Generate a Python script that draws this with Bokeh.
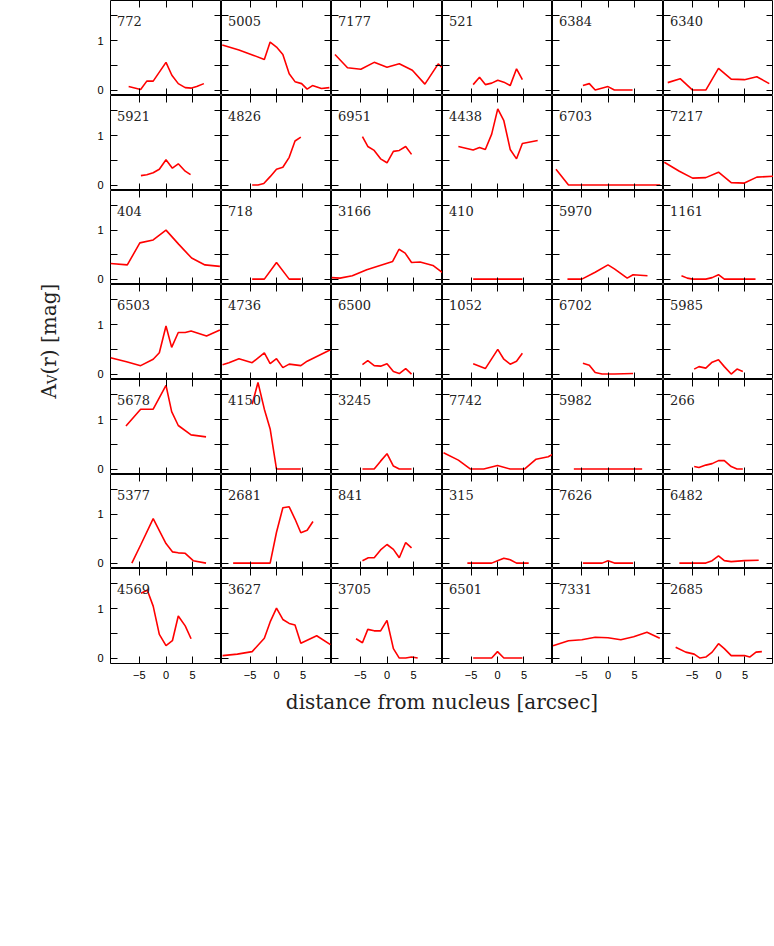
import math
from bokeh.plotting import figure
from bokeh.models import Range1d, FixedTicker, LinearAxis, Label
from bokeh.layouts import gridplot, row, column
from bokeh.embed import file_html
from bokeh.resources import INLINE

# ---------------- data ----------------
# row 1
x_772 = [-7.0, -4.75, -3.6, -2.4, 0.0, 1.1, 2.3, 3.6, 4.8, 5.75, 7.1]
y_772 = [0.07, 0.01, 0.18, 0.18, 0.56, 0.30, 0.13, 0.05, 0.04, 0.07, 0.13]
x_5005 = [-10.25, -7.1, -4.3, -2.3, -1.2, 0.0, 1.2, 2.4, 3.5, 4.75, 5.8, 6.8, 8.5, 10.0]
y_5005 = [0.91, 0.81, 0.70, 0.62, 0.97, 0.87, 0.72, 0.33, 0.17, 0.13, 0.02, 0.09, 0.03, 0.05]
x_7177 = [-9.75, -7.4, -4.9, -2.4, 0.0, 2.3, 4.75, 7.1, 9.6, 11.5]
y_7177 = [0.72, 0.45, 0.42, 0.56, 0.46, 0.53, 0.40, 0.12, 0.53, 0.34]
x_521 = [-4.6, -3.4, -2.3, -1.1, 0.05, 1.2, 2.4, 3.6, 4.7]
y_521 = [0.11, 0.26, 0.11, 0.14, 0.20, 0.16, 0.09, 0.43, 0.21]
x_6384 = [-4.7, -3.5, -2.4, 0.0, 1.2, 2.3, 3.5, 4.6]
y_6384 = [0.09, 0.13, 0.0, 0.07, 0.0, 0.0, 0.0, 0.0]
x_6340 = [-9.6, -7.25, -4.9, -2.4, 0.0, 2.4, 4.9, 7.25, 9.6]
y_6340 = [0.15, 0.23, 0.0, 0.0, 0.44, 0.22, 0.21, 0.27, 0.13]
# row 2
x_5921 = [-4.7, -3.6, -2.4, -1.25, 0.0, 1.2, 2.3, 3.6, 4.6]
y_5921 = [0.19, 0.21, 0.25, 0.32, 0.51, 0.34, 0.43, 0.28, 0.21]
x_4826 = [-4.6, -3.5, -2.4, -1.2, 0.0, 1.2, 2.4, 3.5, 4.6]
y_4826 = [0.0, 0.0, 0.03, 0.17, 0.32, 0.36, 0.56, 0.89, 0.97]
x_6951 = [-4.6, -3.6, -2.4, -1.2, 0.0, 1.2, 2.3, 3.5, 4.6]
y_6951 = [0.98, 0.78, 0.70, 0.53, 0.45, 0.68, 0.70, 0.78, 0.62]
x_4438 = [-7.4, -4.6, -3.4, -2.3, -1.1, 0.05, 1.2, 2.4, 3.6, 4.7, 7.6]
y_4438 = [0.78, 0.71, 0.76, 0.72, 1.03, 1.54, 1.30, 0.72, 0.53, 0.84, 0.90]
x_6703 = [-9.75, -7.4, -4.9, -2.4, 0.0, 2.4, 4.9, 7.4, 9.8]
y_6703 = [0.32, 0.0, 0.0, 0.0, 0.0, 0.0, 0.0, 0.0, 0.0]
x_7217 = [-10.25, -7.4, -4.9, -2.4, 0.0, 2.4, 4.9, 7.25, 10.4]
y_7217 = [0.46, 0.28, 0.14, 0.15, 0.26, 0.05, 0.04, 0.16, 0.18]
# row 3
x_404 = [-10.4, -7.25, -4.9, -2.4, 0.0, 2.4, 4.8, 7.3, 10.1]
y_404 = [0.32, 0.29, 0.74, 0.80, 1.0, 0.71, 0.43, 0.29, 0.26]
x_718 = [-4.6, -2.3, 0.0, 2.4, 4.6]
y_718 = [0.0, 0.0, 0.34, 0.0, 0.0]
x_3166 = [-10.4, -8.8, -6.5, -3.8, -1.3, 1.06, 2.25, 3.4, 4.6, 6.2, 8.6, 11.0]
y_3166 = [0.03, 0.02, 0.07, 0.19, 0.28, 0.36, 0.61, 0.53, 0.34, 0.35, 0.28, 0.08]
x_410 = [-4.6, -2.3, 0.0, 2.4, 4.7]
y_410 = [0.0, 0.0, 0.0, 0.0, 0.0]
x_5970 = [-7.6, -4.9, -2.4, 0.0, 1.2, 3.6, 4.7, 7.4]
y_5970 = [0.0, 0.0, 0.14, 0.29, 0.21, 0.02, 0.09, 0.07]
x_1161 = [-7.0, -5.9, -4.9, -2.4, -1.2, 0.0, 1.1, 4.9, 7.0]
y_1161 = [0.07, 0.02, 0.0, 0.0, 0.03, 0.09, 0.0, 0.0, 0.0]
# row 4
x_6503 = [-10.4, -7.4, -4.75, -2.4, -1.25, 0.0, 1.06, 2.3, 3.6, 4.7, 7.6, 10.1]
y_6503 = [0.33, 0.25, 0.17, 0.30, 0.43, 0.97, 0.54, 0.84, 0.84, 0.87, 0.77, 0.89]
x_4736 = [-10.2, -9.0, -7.1, -4.6, -2.3, -1.2, 0.0, 1.2, 2.4, 4.6, 5.8, 10.2]
y_4736 = [0.19, 0.23, 0.31, 0.23, 0.43, 0.21, 0.31, 0.13, 0.20, 0.17, 0.26, 0.49]
x_6500 = [-4.6, -3.6, -2.4, -1.2, 0.0, 1.2, 2.3, 3.5, 4.6]
y_6500 = [0.19, 0.27, 0.17, 0.16, 0.21, 0.05, 0.01, 0.11, 0.0]
x_1052 = [-4.6, -2.3, 0.05, 1.2, 2.4, 3.6, 4.7]
y_1052 = [0.21, 0.11, 0.50, 0.30, 0.20, 0.26, 0.42]
x_6702 = [-4.7, -3.5, -2.4, -1.1, 0.0, 1.2, 4.7]
y_6702 = [0.22, 0.18, 0.03, 0.0, 0.0, 0.0, 0.01]
x_5985 = [-4.6, -3.7, -2.4, -1.2, 0.0, 1.1, 2.4, 3.5, 4.6]
y_5985 = [0.10, 0.15, 0.12, 0.24, 0.29, 0.15, 0.0, 0.10, 0.05]
# row 5
x_5678 = [-7.5, -4.75, -2.4, 0.0, 1.06, 2.3, 4.7, 7.5]
y_5678 = [0.87, 1.21, 1.21, 1.69, 1.16, 0.88, 0.69, 0.65]
x_4150 = [-4.6, -3.5, -2.3, -1.2, 0.0, 1.2, 2.3, 3.5, 4.6]
y_4150 = [1.31, 1.75, 1.21, 0.81, 0.0, 0.0, 0.0, 0.0, 0.0]
x_3245 = [-4.6, -2.4, -1.2, 0.0, 1.2, 2.3, 4.6]
y_3245 = [0.0, 0.0, 0.16, 0.31, 0.06, 0.0, 0.0]
x_7742 = [-10.2, -7.4, -5.1, -2.6, 0.0, 2.4, 5.1, 7.3, 9.6, 11.0]
y_7742 = [0.33, 0.18, 0.0, 0.0, 0.07, 0.0, 0.0, 0.20, 0.25, 0.33]
x_5982 = [-6.4, -3.2, 0.0, 3.2, 6.4]
y_5982 = [0.0, 0.0, 0.0, 0.0, 0.0]
x_266 = [-4.6, -3.7, -2.4, -1.2, 0.0, 1.1, 2.4, 3.5, 4.6]
y_266 = [0.05, 0.03, 0.08, 0.11, 0.17, 0.17, 0.05, 0.0, 0.0]
# row 6
x_5377 = [-6.4, -4.75, -2.4, 0.0, 1.2, 2.3, 3.6, 5.1, 7.5]
y_5377 = [0.0, 0.37, 0.91, 0.40, 0.23, 0.21, 0.20, 0.05, 0.0]
x_2681 = [-8.2, -5.8, -4.6, -3.5, -2.3, -1.2, 0.0, 1.2, 2.4, 3.5, 4.6, 5.8, 6.9]
y_2681 = [0.0, 0.0, 0.0, 0.0, 0.0, 0.0, 0.63, 1.13, 1.15, 0.90, 0.62, 0.67, 0.85]
x_841 = [-4.6, -3.5, -2.4, -1.2, 0.0, 1.2, 2.3, 3.5, 4.6]
y_841 = [0.05, 0.11, 0.11, 0.27, 0.38, 0.28, 0.11, 0.42, 0.31]
x_315 = [-5.7, -1.1, 0.0, 1.2, 2.4, 3.6, 5.9]
y_315 = [0.0, 0.0, 0.05, 0.10, 0.07, 0.0, 0.0]
x_7626 = [-4.7, -1.1, 0.0, 1.2, 4.7]
y_7626 = [0.0, 0.0, 0.05, 0.0, 0.0]
x_6482 = [-7.4, -2.4, -1.2, 0.0, 1.1, 2.4, 4.9, 7.6]
y_6482 = [0.0, 0.0, 0.05, 0.15, 0.05, 0.03, 0.05, 0.06]
# row 7
x_4569 = [-4.7, -3.5, -2.4, -1.25, 0.0, 1.2, 2.3, 3.6, 4.7]
y_4569 = [1.31, 1.37, 1.05, 0.48, 0.25, 0.35, 0.85, 0.65, 0.39]
x_3627 = [-10.2, -7.4, -4.6, -2.3, -1.2, 0.0, 1.2, 2.4, 3.5, 4.6, 7.6, 10.2]
y_3627 = [0.05, 0.08, 0.13, 0.40, 0.73, 1.01, 0.78, 0.70, 0.67, 0.30, 0.45, 0.27]
x_3705 = [-5.8, -4.6, -3.6, -2.4, -1.2, 0.0, 1.2, 2.3, 3.5, 4.6, 5.75]
y_3705 = [0.39, 0.31, 0.58, 0.55, 0.55, 0.76, 0.19, 0.0, 0.0, 0.02, 0.0]
x_6501 = [-4.6, -1.1, 0.0, 1.2, 4.7]
y_6501 = [0.0, 0.0, 0.13, 0.0, 0.0]
x_7331 = [-10.3, -7.4, -4.9, -2.4, 0.0, 2.4, 4.8, 7.3, 9.7]
y_7331 = [0.25, 0.35, 0.37, 0.42, 0.41, 0.37, 0.43, 0.52, 0.40]
x_2685 = [-8.1, -6.2, -4.6, -3.5, -2.4, -1.2, 0.0, 1.1, 2.4, 4.9, 5.9, 7.1, 8.2]
y_2685 = [0.22, 0.12, 0.08, 0.0, 0.02, 0.12, 0.29, 0.19, 0.05, 0.05, 0.02, 0.12, 0.13]

x_ticks = [-5, 0, 5]
y_ticks = [0, 1]
y_minor_ticks = [0.5, 1.5]
x_tick_labels = {-5: "\u22125", 0: "0", 5: "5"}
x_title = "distance from nucleus [arcsec]"

panel_rows = [
    [("772", x_772, y_772), ("5005", x_5005, y_5005), ("7177", x_7177, y_7177),
     ("521", x_521, y_521), ("6384", x_6384, y_6384), ("6340", x_6340, y_6340)],
    [("5921", x_5921, y_5921), ("4826", x_4826, y_4826), ("6951", x_6951, y_6951),
     ("4438", x_4438, y_4438), ("6703", x_6703, y_6703), ("7217", x_7217, y_7217)],
    [("404", x_404, y_404), ("718", x_718, y_718), ("3166", x_3166, y_3166),
     ("410", x_410, y_410), ("5970", x_5970, y_5970), ("1161", x_1161, y_1161)],
    [("6503", x_6503, y_6503), ("4736", x_4736, y_4736), ("6500", x_6500, y_6500),
     ("1052", x_1052, y_1052), ("6702", x_6702, y_6702), ("5985", x_5985, y_5985)],
    [("5678", x_5678, y_5678), ("4150", x_4150, y_4150), ("3245", x_3245, y_3245),
     ("7742", x_7742, y_7742), ("5982", x_5982, y_5982), ("266", x_266, y_266)],
    [("5377", x_5377, y_5377), ("2681", x_2681, y_2681), ("841", x_841, y_841),
     ("315", x_315, y_315), ("7626", x_7626, y_7626), ("6482", x_6482, y_6482)],
    [("4569", x_4569, y_4569), ("3627", x_3627, y_3627), ("3705", x_3705, y_3705),
     ("6501", x_6501, y_6501), ("7331", x_7331, y_7331), ("2685", x_2685, y_2685)],
]

# ---------------- layout / style ----------------
X_MIN, X_MAX = -10.4, 10.4
Y_MIN, Y_MAX = -0.11, 1.81
COL_W = [111, 110, 111, 110, 111, 110]
ROW_H = [95, 95, 94, 95, 95, 94, 95]
LEFT_B = 30
BOTTOM_B = 25
YLAB_W = 80
TICK = 7
SERIF = "DejaVu Serif"
SANS = "Liberation Sans"
TXT = "#222222"


def style_axis(ax, show_labels):
    ax.axis_line_color = None
    ax.major_tick_in = TICK
    ax.major_tick_out = 0
    ax.minor_tick_in = TICK
    ax.minor_tick_out = 0
    ax.major_tick_line_color = "black"
    ax.minor_tick_line_color = "black"
    ax.major_tick_line_width = 1
    ax.minor_tick_line_width = 1
    ax.axis_label = None
    ax.major_label_text_font = SANS
    ax.major_label_text_font_size = "11px"
    ax.major_label_text_color = "black"
    ax.major_label_standoff = 7 if show_labels else 0


def x_ticker(labelled):
    # unlabelled sides carry their ticks as minor ticks only, so no texts are drawn
    if labelled:
        return FixedTicker(ticks=x_ticks, minor_ticks=[])
    return FixedTicker(ticks=[], minor_ticks=x_ticks)


def y_ticker(labelled):
    if labelled:
        return FixedTicker(ticks=y_ticks, minor_ticks=y_minor_ticks)
    return FixedTicker(ticks=[], minor_ticks=sorted(y_ticks + y_minor_ticks))


def make_panel(r, c, name, xv, yv):
    first_col = c == 0
    last_row = r == len(ROW_H) - 1
    p = figure(frame_width=COL_W[c], frame_height=ROW_H[r],
               x_range=Range1d(X_MIN, X_MAX), y_range=Range1d(Y_MIN, Y_MAX),
               output_backend="svg", toolbar_location=None,
               min_border_left=LEFT_B if first_col else 0,
               min_border_bottom=BOTTOM_B if last_row else 0,
               min_border_top=0, min_border_right=0)
    p.grid.visible = False
    p.outline_line_color = "black"
    p.outline_line_width = 1
    p.background_fill_color = "white"
    p.border_fill_color = "white"

    xb = p.xaxis[0]
    yl = p.yaxis[0]
    xb.ticker = x_ticker(last_row)
    yl.ticker = y_ticker(first_col)
    style_axis(xb, last_row)
    style_axis(yl, first_col)
    if last_row:
        xb.major_label_overrides = x_tick_labels

    xt = LinearAxis(ticker=x_ticker(False))
    yr = LinearAxis(ticker=y_ticker(False))
    style_axis(xt, False)
    style_axis(yr, False)
    p.add_layout(xt, "above")
    p.add_layout(yr, "right")

    p.line(xv, yv, line_color="red", line_width=1.6)

    ppu_x = COL_W[c] / (X_MAX - X_MIN)
    ppu_y = ROW_H[r] / (Y_MAX - Y_MIN)
    p.add_layout(Label(x=X_MIN + 6.5 / ppu_x, y=Y_MAX - 20.5 / ppu_y,
                       text=name, text_font=SERIF, text_font_size="13px",
                       text_color=TXT, text_align="left",
                       text_baseline="alphabetic"))
    return p


panels = []
for r, prow in enumerate(panel_rows):
    panels.append([make_panel(r, c, n, xv, yv) for c, (n, xv, yv) in enumerate(prow)])

grid = gridplot(panels, toolbar_location=None)

GRID_H = sum(ROW_H) + BOTTOM_B
ylab = figure(width=YLAB_W, height=GRID_H, x_range=Range1d(0, YLAB_W),
              y_range=Range1d(0, GRID_H), x_axis_type=None, y_axis_type=None,
              output_backend="svg", toolbar_location=None, min_border=0)
ylab.grid.visible = False
ylab.outline_line_color = None
ylab.add_layout(Label(x=48, y=GRID_H - 398, text="A", angle=math.pi / 2,
                      text_font=SERIF, text_font_size="20px", text_color=TXT,
                      text_align="left", text_baseline="alphabetic"))
ylab.add_layout(Label(x=52, y=GRID_H - 383.5, text="V", angle=math.pi / 2,
                      text_font=SERIF, text_font_size="13px", text_color=TXT,
                      text_align="left", text_baseline="alphabetic"))
ylab.add_layout(Label(x=48, y=GRID_H - 374, text="(r) [mag]", angle=math.pi / 2,
                      text_font=SERIF, text_font_size="20px", text_color=TXT,
                      text_align="left", text_baseline="alphabetic"))

TOTAL_W = YLAB_W + LEFT_B + sum(COL_W)
XLAB_H = 40
xlab = figure(width=TOTAL_W, height=XLAB_H, x_range=Range1d(0, TOTAL_W),
              y_range=Range1d(0, XLAB_H), x_axis_type=None, y_axis_type=None,
              output_backend="svg", toolbar_location=None, min_border=0)
xlab.grid.visible = False
xlab.outline_line_color = None
xlab.add_layout(Label(x=YLAB_W + LEFT_B + sum(COL_W) / 2, y=XLAB_H - 13,
                      text=x_title, text_font=SERIF, text_font_size="20px",
                      text_color=TXT, text_align="center",
                      text_baseline="alphabetic"))

root = column(row(ylab, grid), xlab)

open("out.html", "w").write(file_html(root, INLINE))
